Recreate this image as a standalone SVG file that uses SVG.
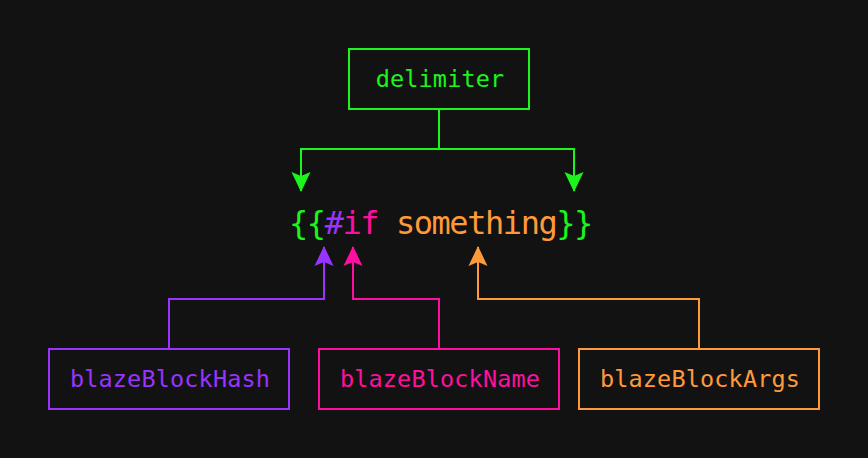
<svg xmlns="http://www.w3.org/2000/svg" width="868" height="458" viewBox="0 0 868 458">
<style>
.box{fill:none;stroke-width:2}
.lbl{font-family:"DejaVu Sans Mono","Liberation Mono",monospace;font-size:23.5px;letter-spacing:0.15px;text-anchor:middle}
.code{font-family:"DejaVu Sans Mono","Liberation Mono",monospace;font-size:32px;letter-spacing:-1.45px}
.ln{fill:none;stroke-width:2}
.g{stroke:#1cf51c}
.p{stroke:#9933ff}
.k{stroke:#ff0fa0}
.o{stroke:#ff9a3a}
</style>
<defs>
<marker id="ag" viewBox="0 0 20 20" refX="19" refY="10" markerWidth="20" markerHeight="20" markerUnits="userSpaceOnUse" orient="auto"><path d="M0,0.5 L20,10 L0,19.5 L4,10 Z" fill="#1cf51c"/></marker>
<marker id="ap" viewBox="0 0 20 20" refX="19" refY="10" markerWidth="20" markerHeight="20" markerUnits="userSpaceOnUse" orient="auto"><path d="M0,0.5 L20,10 L0,19.5 L4,10 Z" fill="#9933ff"/></marker>
<marker id="ak" viewBox="0 0 20 20" refX="19" refY="10" markerWidth="20" markerHeight="20" markerUnits="userSpaceOnUse" orient="auto"><path d="M0,0.5 L20,10 L0,19.5 L4,10 Z" fill="#ff0fa0"/></marker>
<marker id="ao" viewBox="0 0 20 20" refX="19" refY="10" markerWidth="20" markerHeight="20" markerUnits="userSpaceOnUse" orient="auto"><path d="M0,0.5 L20,10 L0,19.5 L4,10 Z" fill="#ff9a3a"/></marker>
</defs>
<rect width="868" height="458" fill="#121212"/>
<g id="connectors">
<path class="ln g" d="M439,109 V149 H301 V191" marker-end="url(#ag)"/>
<path class="ln g" d="M439,149 H574 V191" marker-end="url(#ag)"/>
<path class="ln p" d="M169,349 V299 H324 V247" marker-end="url(#ap)"/>
<path class="ln k" d="M439,349 V299 H353 V247" marker-end="url(#ak)"/>
<path class="ln o" d="M699,349 V299 H478 V247" marker-end="url(#ao)"/>
</g>
<g id="delimiter">
<rect class="box g" x="349" y="49" width="180" height="60"/>
<text class="lbl" x="440" y="87" fill="#1cf51c">delimiter</text>
</g>
<g id="code">
<text class="code" x="289" y="234"><tspan fill="#1cf51c">{{</tspan><tspan fill="#9933ff">#</tspan><tspan fill="#ff0fa0">if</tspan><tspan fill="#ff9a3a"> something</tspan><tspan fill="#1cf51c">}}</tspan></text>
</g>
<g id="blazeBlockHash">
<rect class="box p" x="49" y="349" width="240" height="60"/>
<text class="lbl" x="170" y="387" fill="#9933ff">blazeBlockHash</text>
</g>
<g id="blazeBlockName">
<rect class="box k" x="319" y="349" width="240" height="60"/>
<text class="lbl" x="440" y="387" fill="#ff0fa0">blazeBlockName</text>
</g>
<g id="blazeBlockArgs">
<rect class="box o" x="579" y="349" width="240" height="60"/>
<text class="lbl" x="700" y="387" fill="#ff9a3a">blazeBlockArgs</text>
</g>
</svg>
